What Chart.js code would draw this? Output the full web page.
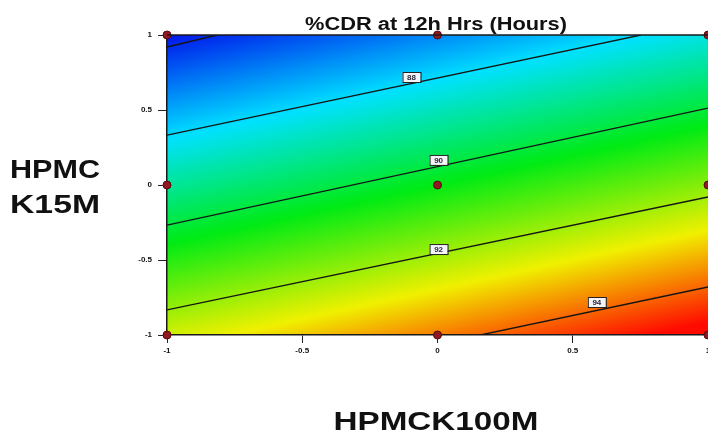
<!DOCTYPE html>
<html>
<head>
<meta charset="utf-8">
<script src="https://cdn.jsdelivr.net/npm/chart.js@4/dist/chart.umd.min.js"></script>
<style>
  html, body { margin: 0; padding: 0; background: #ffffff; }
  canvas { display: block; }
</style>
</head>
<body>
<canvas id="c" width="708" height="433"></canvas>
<script>
// Axis ticks (coded factor levels)
const xTicks = [-1, -0.5, 0, 0.5, 1];
const yTicks = [-1, -0.5, 0, 0.5, 1];

// Design points of the 3x3 factorial
const designX = [-1, 0, 1, -1, 0, 1, -1, 0, 1];
const designY = [1, 1, 1, 0, 0, 0, -1, -1, -1];

// Contour lines: level and the two ends where each meets the plot frame
const contourLevels = [86, 88, 90, 92, 94];
const contourStart = [[-1, 0.92], [-1, 0.333], [-1, -0.267], [-1, -0.833], [0.159, -1]];
const contourEnd = [[-0.815, 1], [0.752, 1], [1, 0.513], [1, -0.08], [1, -0.68]];

// Contour value labels
const labelLevels = [88, 90, 92, 94];
const labelX = [-0.096, 0.004, 0.004, 0.589];
const labelY = [0.72, 0.167, -0.427, -0.78];

// Response (%CDR) at the corners of the design space, rows: y = -1, y = 1
const cornerX = [-1, 1];
const cornerY = [-1, 1];
const cornerValues = [[92.4, 95.0], [85.8, 88.4]];

// Colour ramp: blue -> cyan -> green -> yellow -> red
const rampStops = [0, 0.25, 0.5, 0.75, 0.97];
const rampColors = [[0, 20, 235], [0, 225, 255], [0, 235, 20], [240, 240, 0], [255, 10, 0]];

const vMin = Math.min(...cornerValues.flat());
const vMax = Math.max(...cornerValues.flat());

function responseAt(x, y) {
  const tx = (x - cornerX[0]) / (cornerX[1] - cornerX[0]);
  const ty = (y - cornerY[0]) / (cornerY[1] - cornerY[0]);
  const lo = (1 - tx) * cornerValues[0][0] + tx * cornerValues[0][1];
  const hi = (1 - tx) * cornerValues[1][0] + tx * cornerValues[1][1];
  return (1 - ty) * lo + ty * hi;
}

function rampColor(v) {
  let t = (v - vMin) / (vMax - vMin);
  t = Math.max(0, Math.min(1, t));
  for (let i = 1; i < rampStops.length; i++) {
    if (t <= rampStops[i]) {
      const f = (t - rampStops[i - 1]) / (rampStops[i] - rampStops[i - 1]);
      const a = rampColors[i - 1], b = rampColors[i];
      return [a[0] + (b[0] - a[0]) * f, a[1] + (b[1] - a[1]) * f, a[2] + (b[2] - a[2]) * f];
    }
  }
  return rampColors[rampColors.length - 1];
}

// Text squeezed or stretched horizontally to a given width
function drawFitText(ctx, text, cx, baseline, width, font) {
  ctx.save();
  ctx.font = font;
  const w = ctx.measureText(text).width;
  ctx.translate(cx, baseline);
  ctx.scale(width / w, 1);
  ctx.textAlign = 'center';
  ctx.textBaseline = 'alphabetic';
  ctx.fillStyle = '#111111';
  ctx.fillText(text, 0, 0);
  ctx.restore();
}

// Filled response surface behind everything
const surfacePlugin = {
  id: 'surface',
  beforeDraw(chart) {
    const { ctx, chartArea: a, scales } = chart;
    const w = Math.round(a.right - a.left), h = Math.round(a.bottom - a.top);
    const img = ctx.createImageData(w, h);
    for (let j = 0; j < h; j++) {
      const y = scales.y.getValueForPixel(a.top + j + 0.5);
      for (let i = 0; i < w; i++) {
        const x = scales.x.getValueForPixel(a.left + i + 0.5);
        const c = rampColor(responseAt(x, y));
        const k = (j * w + i) * 4;
        img.data[k] = c[0]; img.data[k + 1] = c[1]; img.data[k + 2] = c[2]; img.data[k + 3] = 255;
      }
    }
    ctx.putImageData(img, Math.round(a.left), Math.round(a.top));
  }
};

// Frame, contour labels, titles
const decorPlugin = {
  id: 'decor',
  afterDatasetsDraw(chart) {
    const { ctx, chartArea: a, scales } = chart;
    ctx.save();
    ctx.strokeStyle = '#1a1a1a';
    ctx.lineWidth = 1.5;
    ctx.beginPath();
    ctx.moveTo(a.left, a.top);
    ctx.lineTo(a.right, a.top);
    ctx.stroke();
    ctx.restore();

    labelLevels.forEach((lv, i) => {
      const px = scales.x.getPixelForValue(labelX[i]);
      const py = scales.y.getPixelForValue(labelY[i]);
      ctx.save();
      ctx.fillStyle = '#f4f4f8';
      ctx.strokeStyle = '#222222';
      ctx.lineWidth = 1;
      ctx.fillRect(px - 9, py - 5, 18, 10);
      ctx.strokeRect(px - 9 + 0.5, py - 5 + 0.5, 18, 10);
      ctx.fillStyle = '#2a2a3a';
      ctx.font = 'bold 8px "Liberation Sans", Arial, sans-serif';
      ctx.textAlign = 'center';
      ctx.textBaseline = 'middle';
      ctx.fillText(String(lv), px, py + 0.5);
      ctx.restore();
    });
  },
  afterDraw(chart) {
    const ctx = chart.ctx;
    drawFitText(ctx, '%CDR at 12h Hrs (Hours)', 436, 30, 262, 'bold 18px "Liberation Sans", Arial, sans-serif');
    drawFitText(ctx, 'HPMC', 55, 178, 90, 'bold 25px "Liberation Sans", Arial, sans-serif');
    drawFitText(ctx, 'K15M', 55, 213, 90, 'bold 25px "Liberation Sans", Arial, sans-serif');
    drawFitText(ctx, 'HPMCK100M', 436, 430, 205, 'bold 25px "Liberation Sans", Arial, sans-serif');
  }
};

const datasets = contourLevels.map((lv, i) => ({
  label: String(lv),
  data: [{ x: contourStart[i][0], y: contourStart[i][1] }, { x: contourEnd[i][0], y: contourEnd[i][1] }],
  showLine: true,
  borderColor: '#151515',
  borderWidth: 1.3,
  pointRadius: 0,
  fill: false
}));

datasets.push({
  label: 'Design points',
  data: designX.map((x, i) => ({ x, y: designY[i] })),
  showLine: false,
  pointStyle: 'circle',
  pointRadius: 4,
  pointBackgroundColor: '#901820',
  pointBorderColor: '#5a0a10',
  pointBorderWidth: 1,
  clip: false
});

const tickFont = { family: '"Liberation Sans", Arial, sans-serif', size: 8, weight: 'bold' };
const fmt = v => String(v);

new Chart(document.getElementById('c'), {
  type: 'scatter',
  data: { datasets },
  options: {
    responsive: false,
    animation: false,
    events: [],
    layout: { autoPadding: false, padding: { top: 35, right: 0, left: 0, bottom: 0 } },
    plugins: { legend: { display: false }, tooltip: { enabled: false }, title: { display: false } },
    scales: {
      x: {
        type: 'linear', min: -1, max: 1,
        afterBuildTicks: s => { s.ticks = xTicks.map(v => ({ value: v })); },
        ticks: { font: tickFont, color: '#111111', callback: fmt, maxRotation: 0, autoSkip: false, padding: 3 },
        grid: { drawOnChartArea: false, drawTicks: true, tickLength: 8, color: '#222222', lineWidth: 1 },
        border: { display: true, color: '#1a1a1a', width: 1.5 },
        afterFit: s => { s.height = 98; s.paddingLeft = 0; s.paddingRight = 0; }
      },
      y: {
        type: 'linear', min: -1, max: 1,
        afterBuildTicks: s => { s.ticks = yTicks.map(v => ({ value: v })); },
        ticks: { font: tickFont, color: '#111111', callback: fmt, autoSkip: false, padding: 6 },
        grid: { drawOnChartArea: false, drawTicks: true, tickLength: 9, color: '#222222', lineWidth: 1 },
        border: { display: true, color: '#1a1a1a', width: 1.5 },
        afterFit: s => { s.width = 167; s.paddingTop = 0; s.paddingBottom = 0; }
      }
    }
  },
  plugins: [surfacePlugin, decorPlugin]
});
</script>
</body>
</html>
